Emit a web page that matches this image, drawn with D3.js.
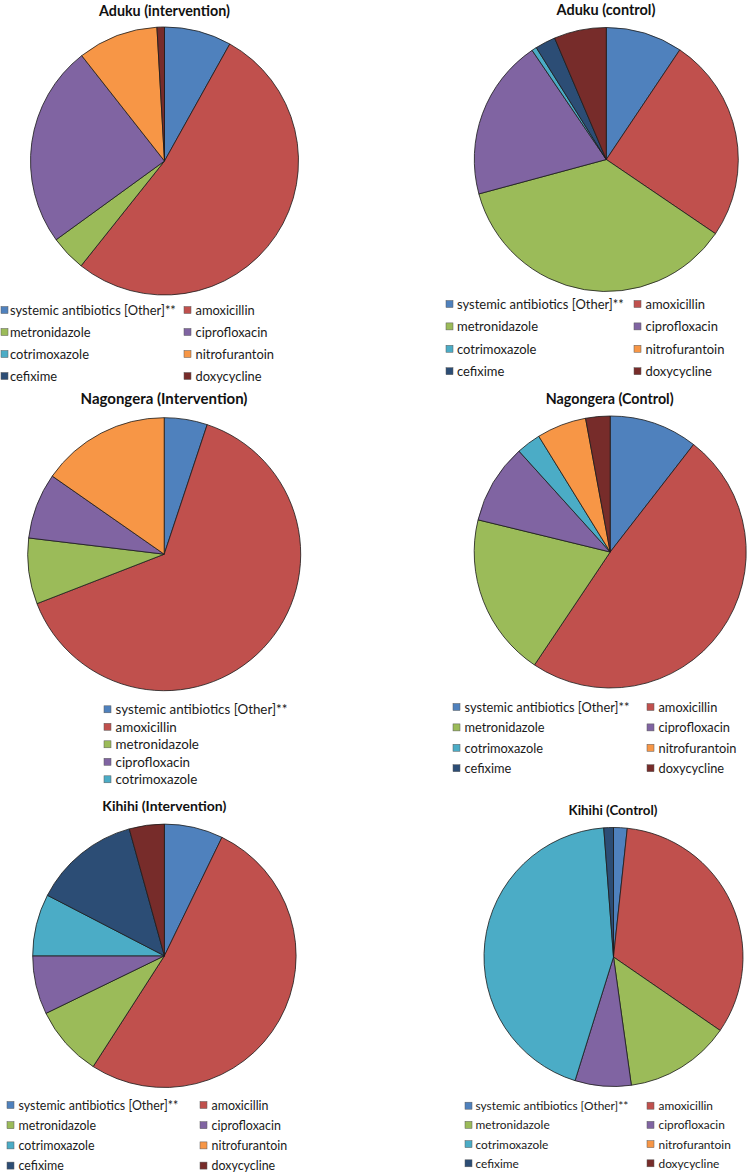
<!DOCTYPE html>
<html><head><meta charset="utf-8">
<script src="https://cdn.jsdelivr.net/npm/d3@7"></script>
<style>
html,body{margin:0;padding:0;background:#fff;}
svg{display:block;}
</style></head>
<body>
<svg id="chart" width="748" height="1174"></svg>
<script>
// ---- data ----
const categories = ["systemic antibiotics [Other]**","amoxicillin","metronidazole","ciprofloxacin","cotrimoxazole","nitrofurantoin","cefixime","doxycycline"];
const sliceColors = ["#4F81BD","#C0504D","#9BBB59","#8064A2","#4BACC6","#F79646","#2C4D75","#772C2A"];
const titles = ["Aduku (intervention)","Aduku (control)","Nagongera (Intervention)","Nagongera (Control)","Kihihi (Intervention)","Kihihi (Control)"];
const adukuIntervention   = [8.1, 52.6, 4.3, 24.4, 0, 9.7, 0, 0.9];
const adukuControl        = [9.4, 25.1, 36.3, 19.7, 0.6, 0, 2.5, 6.4];
const nagongeraIntervention = [5.1, 64.0, 7.8, 7.8, 0, 15.3, 0, 0];
const nagongeraControl    = [10.5, 48.9, 19.4, 9.5, 2.9, 5.9, 0, 2.9];
const kihihiIntervention  = [7.2, 51.9, 8.7, 7.2, 7.6, 0, 13.1, 4.3];
const kihihiControl       = [1.7, 32.9, 13.2, 7.0, 44.0, 0, 1.2, 0];
const seriesList = [adukuIntervention, adukuControl, nagongeraIntervention, nagongeraControl, kihihiIntervention, kihihiControl];
const legendItemCounts = [8, 8, 5, 8, 8, 8];

// ---- layout (tw: title width, lw: width of first legend label) ----
const layout = [
  {cx:164.5, cy:161, r:134, ty:10, tx:164.5, tw:131, lx1:1, lx2:184, ly:310, ldy:22, cols:2, tdx:9, lw:166},
  {cx:606.3, cy:159.5, r:132, ty:9, tx:606, tw:99, lx1:446, lx2:634, ly:304, ldy:22.4, cols:2, tdx:11, lw:167},
  {cx:164.2, cy:554.2, r:136.5, ty:398, tx:164, tw:167, lx1:104, lx2:0, ly:709.3, ldy:17.5, cols:1, tdx:11.5, lw:172},
  {cx:610.2, cy:552, r:136, ty:398, tx:609.7, tw:128, lx1:453, lx2:647, ly:707, ldy:20.4, cols:2, tdx:11.5, lw:165},
  {cx:164.4, cy:955.8, r:131.7, ty:805, tx:164.3, tw:124, lx1:7, lx2:200, ly:1105, ldy:20.2, cols:2, tdx:11.5, lw:160},
  {cx:613.5, cy:957, r:129.5, ty:809.5, tx:613, tw:89, lx1:465, lx2:647, ly:1105.7, ldy:19.2, cols:2, tdx:10.5, lw:153}
];
const FONT = "Lato, 'Open Sans', sans-serif";

const svg = d3.select("#chart");
const color = d3.scaleOrdinal().domain(categories).range(sliceColors);
const pie = d3.pie().sort(null).value(d => d.v).startAngle(0).endAngle(2*Math.PI);

function fitSize(text, bold, target) {
  const t = svg.append("text").style("font-family", FONT).style("font-size", "20px")
    .style("font-weight", bold ? "bold" : "normal").text(text);
  const w = t.node().getComputedTextLength();
  t.remove();
  return 20 * target / w;
}

seriesList.forEach((vals, i) => {
  const L = layout[i];
  const g = svg.append("g");
  g.append("text")
    .attr("x", L.tx).attr("y", L.ty)
    .attr("text-anchor","middle").attr("dominant-baseline","central")
    .style("font-family", FONT)
    .style("font-weight","bold").style("font-size", fitSize(titles[i], true, L.tw) + "px").style("fill","#111")
    .text(titles[i]);
  const data = categories.map((c, k) => ({c, v: vals[k]}));
  const arcs = pie(data).filter(a => a.data.v > 0);
  const arc = d3.arc().innerRadius(0).outerRadius(L.r);
  g.append("g").attr("transform", `translate(${L.cx},${L.cy})`)
    .selectAll("path").data(arcs).join("path")
    .attr("d", arc)
    .attr("fill", d => color(d.data.c))
    .attr("stroke", "#1a1a1a").attr("stroke-width", 0.8).attr("stroke-linejoin","round");
  // legend
  const fs = fitSize(categories[0], false, L.lw);
  const items = categories.slice(0, legendItemCounts[i]);
  const lg = g.append("g");
  items.forEach((c, k) => {
    const col = L.cols === 2 ? k % 2 : 0;
    const row = L.cols === 2 ? Math.floor(k / 2) : k;
    const x = col === 0 ? L.lx1 : L.lx2;
    const y = L.ly + row * L.ldy;
    lg.append("rect").attr("x", x).attr("y", y - 3.5).attr("width", 7).attr("height", 7)
      .attr("fill", color(c)).attr("stroke", "#5a5a5a").attr("stroke-width", 0.5);
    lg.append("text").attr("x", x + (col === 0 ? L.tdx : 11.5)).attr("y", y)
      .attr("dominant-baseline","central")
      .style("font-family", FONT)
      .style("font-size", fs + "px").style("fill","#1a1a1a")
      .text(c);
  });
});
</script>
</body></html>
